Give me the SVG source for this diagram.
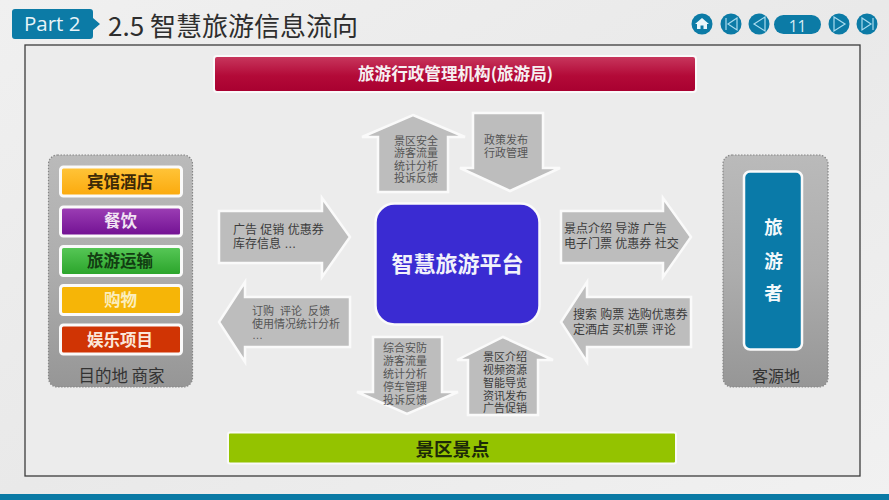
<svg xmlns="http://www.w3.org/2000/svg" width="889" height="500" viewBox="0 0 889 500">
<style>
text{font-family:"Noto Sans CJK SC","Noto Sans",sans-serif}
.c{text-anchor:middle}
.b{font-weight:700}
.arrow{fill:#bdbdbd;stroke:#fafafa;stroke-width:2.5;stroke-linejoin:miter}
.at,.as{font-family:"Liberation Sans","Noto Sans CJK SC",sans-serif}
.at{font-size:12px;fill:#3c3c3c}
.as{font-size:11px;fill:#555}
.wide{word-spacing:3px}
.item{stroke:#fafafa;stroke-width:3}
.il{font-size:16.5px;font-weight:700;text-anchor:middle}
.group{fill:url(#gg);stroke:#858585;stroke-width:1.2;stroke-dasharray:1.5 1.5}
.nav{fill:#0c7ba6}
.ng{fill:none;stroke:#a9dcef;stroke-width:1.2}
.lat{font-family:"Open Sans","Noto Sans",sans-serif}
</style>
<defs>
<linearGradient id="bg" x1="0" y1="0" x2="1" y2="1"><stop offset="0" stop-color="#f0f0f0"/><stop offset=".5" stop-color="#e9e9e9"/><stop offset="1" stop-color="#f1f1f1"/></linearGradient>
<linearGradient id="gg" x1="0" y1="0" x2="0" y2="1"><stop offset="0" stop-color="#bababa"/><stop offset=".5" stop-color="#adadad"/><stop offset="1" stop-color="#969696"/></linearGradient>
<linearGradient id="red" x1="0" y1="0" x2="0" y2="1"><stop offset="0" stop-color="#c8385e"/><stop offset=".55" stop-color="#b30a38"/><stop offset="1" stop-color="#a80030"/></linearGradient>
<linearGradient id="or" x1="0" y1="0" x2="0" y2="1"><stop offset="0" stop-color="#ffc53a"/><stop offset="1" stop-color="#fba90c"/></linearGradient>
<linearGradient id="pu" x1="0" y1="0" x2="0" y2="1"><stop offset="0" stop-color="#9d3fb5"/><stop offset="1" stop-color="#711092"/></linearGradient>
<linearGradient id="gr" x1="0" y1="0" x2="0" y2="1"><stop offset="0" stop-color="#58c858"/><stop offset="1" stop-color="#29a329"/></linearGradient>
</defs>
<rect width="889" height="500" fill="url(#bg)"/>
<rect x="0" y="494" width="889" height="6" fill="#0a7aa5"/>
<g id="header">
<path d="M15 9H90Q93 9 93 12V18L100 24L93 30V36Q93 39 90 39H15Q12 39 12 36V12Q12 9 15 9Z" fill="#0c7ba6"/>
<text class="lat" x="24" y="31" font-size="20.500" fill="#e8f4f8">Part 2</text>
<text x="108" y="36" font-size="26" fill="#2e2e2e">2.5 智慧旅游信息流向</text>
</g>
<g id="nav">
<circle class="nav" cx="702" cy="24" r="10.500"/>
<path d="M695 24L702 18L709 24H707V29H703.500V25.500H700.500V29H697V24Z" fill="#eaf6fa"/>
<circle class="nav" cx="731" cy="24" r="10.500"/>
<path class="ng" d="M726 18V30M737 18L728 24L737 30Z"/>
<circle class="nav" cx="759" cy="24" r="10.500"/>
<path class="ng" d="M765 17L754 24L765 31Z"/>
<rect class="nav" x="774" y="15" width="47" height="19" rx="9.500"/>
<text class="c lat" x="797.500" y="32" font-size="15.500" fill="#d8eef6">11</text>
<circle class="nav" cx="839" cy="24" r="10.500"/>
<path class="ng" d="M834 17L845 24L834 31Z"/>
<circle class="nav" cx="867" cy="24" r="10.500"/>
<path class="ng" d="M862 18L871 24L862 30ZM873 18V30"/>
</g>
<rect id="frame" x="25" y="45" width="835" height="431" fill="#ececec" stroke="#3c3c3c" stroke-width="1.300"/>
<g id="node-admin">
<rect x="214" y="56" width="482" height="36" rx="3" fill="url(#red)" stroke="#fafafa" stroke-width="2"/>
<text class="c b" x="455.500" y="79.500" font-size="16.600" fill="#f6f0f2">旅游行政管理机构(旅游局)</text>
</g>
<g id="node-merchants">
<rect class="group" x="48.500" y="155" width="144" height="232" rx="9"/>
<text class="c" x="121.500" y="381.500" font-size="16.500" fill="#333">目的地 商家</text>
</g>
<g id="node-hotel"><rect class="item" x="60.500" y="167" width="121" height="29" rx="3" fill="url(#or)"/><text class="il" x="120" y="187.500" fill="#3d2a08">宾馆酒店</text></g>
<g id="node-food"><rect class="item" x="60.500" y="207" width="121" height="29" rx="3" fill="url(#pu)"/><text class="il" x="120.500" y="227" fill="#f1e4f3">餐饮</text></g>
<g id="node-transport"><rect class="item" x="60.500" y="246.500" width="121" height="29" rx="3" fill="url(#gr)"/><text class="il" x="120" y="266.500" fill="#123d12">旅游运输</text></g>
<g id="node-shopping"><rect class="item" x="60.500" y="285.500" width="121" height="29" rx="3" fill="#f6b507"/><text class="il" x="120.500" y="306" fill="#fbeebd">购物</text></g>
<g id="node-entertainment"><rect class="item" x="60.500" y="325" width="121" height="29" rx="3" fill="#d03404"/><text class="il" x="120" y="345.500" fill="#fbe6d9">娱乐项目</text></g>
<g id="node-platform">
<rect x="375.500" y="203.500" width="164" height="121" rx="19" fill="#3a2bd2" stroke="#fafafa" stroke-width="2.500"/>
<text class="c b" x="457.500" y="272" font-size="22" fill="#f2f2fb">智慧旅游平台</text>
</g>
<g id="node-tourists">
<rect class="group" x="723" y="155" width="105" height="232" rx="9"/>
<rect x="744" y="171.500" width="58" height="178" rx="6" fill="#0a7aa8" stroke="#fafafa" stroke-width="2.500"/>
<g class="c b" font-size="18.500" fill="#f4f9fb"><text x="773.500" y="234">旅</text><text x="773.500" y="268">游</text><text x="773.500" y="300">者</text></g>
<text class="c" x="776" y="382" font-size="16" fill="#333">客源地</text>
</g>
<g id="node-scenic">
<rect x="228" y="432.500" width="448" height="31" rx="2" fill="#94c300" stroke="#fafafa" stroke-width="2"/>
<text class="c b" x="452.500" y="455.500" font-size="18.500" fill="#1c2a08">景区景点</text>
</g>
<g id="connectors">
<path class="arrow" d="M219 211H322V198L350 237L322 277V263H219Z"/>
<text class="at"><tspan x="233" y="234">广告 促销 优惠券</tspan><tspan x="233" y="248">库存信息 …</tspan></text>
<path class="arrow" d="M350 297H245V282L219 322L245 362V347H350Z"/>
<text class="as"><tspan class="wide" x="252" y="315">订购 评论 反馈</tspan><tspan x="252" y="328">使用情况统计分析</tspan><tspan x="252" y="339">…</tspan></text>
<path class="arrow" d="M561 211H663V198L691 237L663 277V263H561Z"/>
<text class="at"><tspan x="564" y="233">景点介绍 导游 广告</tspan><tspan x="564" y="248">电子门票 优惠券 社交</tspan></text>
<path class="arrow" d="M691 297H587V282L561 322L587 362V347H691Z"/>
<text class="at"><tspan x="573" y="319">搜索 购票 选购优惠券</tspan><tspan x="573" y="334">定酒店 买机票 评论</tspan></text>
<path class="arrow" d="M413 115L465 137H448V192H378V137H362Z"/>
<text class="as c"><tspan x="416" y="144.500">景区安全</tspan><tspan x="416" y="157">游客流量</tspan><tspan x="416" y="169.500">统计分析</tspan><tspan x="416" y="182">投诉反馈</tspan></text>
<path class="arrow" d="M473 113H543V168H560L510 191L460 168H473Z"/>
<text class="as c"><tspan x="506" y="144">政策发布</tspan><tspan x="506" y="157">行政管理</tspan></text>
<path class="arrow" d="M373 337H442V392H458L407 414L357 392H373Z"/>
<text class="as c"><tspan x="405" y="352">综合安防</tspan><tspan x="405" y="365">游客流量</tspan><tspan x="405" y="378">统计分析</tspan><tspan x="405" y="391">停车管理</tspan><tspan x="405" y="404">投诉反馈</tspan></text>
<path class="arrow" d="M503 337L553 360H538V415H468V360H457Z"/>
<text class="as c" style="fill:#3c3c3c"><tspan x="505" y="360.500">景区介绍</tspan><tspan x="505" y="373.500">视频资源</tspan><tspan x="505" y="386.500">智能导览</tspan><tspan x="505" y="399.500">资讯发布</tspan><tspan x="505" y="412">广告促销</tspan></text>
</g>
</svg>
